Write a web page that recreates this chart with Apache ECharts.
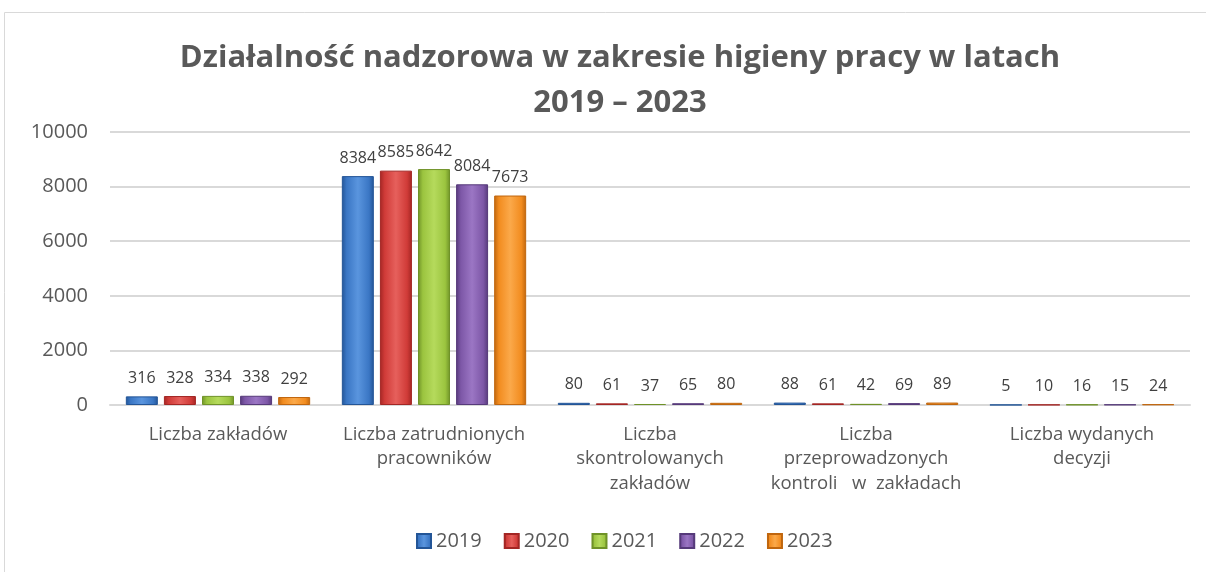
<!DOCTYPE html>
<html>
<head>
<meta charset="utf-8">
<script src="https://cdn.jsdelivr.net/npm/echarts@6/dist/echarts.min.js"></script>
<style>
	html, body { margin: 0; padding: 0; background: #fff; }
	#chart { width: 1206px; height: 572px; }
</style>
</head>
<body>
<div id="chart"></div>
<script>
// kategorie i dane
var categories = [
	'Liczba zakładów',
	'Liczba zatrudnionych\npracowników',
	'Liczba\nskontrolowanych\nzakładów',
	'Liczba\nprzeprowadzonych\nkontroli   w  zakładach',
	'Liczba wydanych\ndecyzji'
];
var years = ['2019', '2020', '2021', '2022', '2023'];
var v2019 = [316, 8384, 80, 88, 5];
var v2020 = [328, 8585, 61, 61, 10];
var v2021 = [334, 8642, 37, 42, 16];
var v2022 = [338, 8084, 65, 69, 15];
var v2023 = [292, 7673, 80, 89, 24];
var yTicks = [0, 2000, 4000, 6000, 8000, 10000];

var colors = [
	['#5a95de', '#3a76c4', '#235597'],
	['#e6605c', '#d03b38', '#a32624'],
	['#b5da5c', '#9bc43f', '#6f9228'],
	['#9b76c4', '#7d57a7', '#563a7a'],
	['#fba94a', '#f28c1f', '#c0660e']
];

function grad(c) {
	return new echarts.graphic.LinearGradient(0, 0, 1, 0, [
		{offset: 0, color: c[2]},
		{offset: 0.15, color: c[1]},
		{offset: 0.5, color: c[0]},
		{offset: 0.85, color: c[1]},
		{offset: 1, color: c[2]}
	]);
}

var allValues = [v2019, v2020, v2021, v2022, v2023];
var series = years.map(function (y, i) {
	return {
		name: y,
		type: 'bar',
		data: allValues[i],
		barWidth: 32,
		barGap: '19%',
		itemStyle: {
			color: grad(colors[i]),
			borderColor: colors[i][2],
			borderWidth: 1
		},
		label: {
			show: true,
			position: 'top',
			distance: 10,
			color: '#404040',
			fontSize: 16,
			fontFamily: 'Open Sans'
		}
	};
});

var myChart = echarts.init(document.getElementById('chart'));
myChart.setOption({
	animation: false,
	color: colors.map(function (c) { return c[1]; }),
	graphic: [{
		type: 'polyline',
		shape: {points: [[4.5, 572], [4.5, 12.5], [1206, 12.5]]},
		style: {stroke: '#d9d9d9', lineWidth: 1, fill: null}
	}],
	title: {
		text: 'Działalność nadzorowa w zakresie higieny pracy w latach\n2019 – 2023',
		left: 615,
		textAlign: 'center',
		top: 31,
		textStyle: {
			fontFamily: 'Open Sans',
			fontWeight: 'bold',
			fontSize: 31,
			lineHeight: 45,
			color: '#595959'
		}
	},
	legend: {
		data: years,
		bottom: 16,
		left: 411,
		itemWidth: 14,
		itemHeight: 14,
		itemGap: 22,
		icon: 'rect',
		textStyle: {fontSize: 20, color: '#595959', fontFamily: 'Open Sans'}
	},
	grid: {left: 110, right: 16, top: 132, bottom: 167},
	xAxis: {
		type: 'category',
		data: categories,
		axisLine: {lineStyle: {color: '#d9d9d9', width: 2}},
		axisTick: {show: false},
		axisLabel: {
			color: '#595959',
			fontSize: 18.5,
			lineHeight: 24.5,
			margin: 17,
			interval: 0,
			fontFamily: 'Open Sans'
		}
	},
	yAxis: {
		type: 'value',
		min: yTicks[0],
		max: yTicks[yTicks.length - 1],
		interval: 2000,
		axisLine: {show: false},
		axisTick: {show: false},
		splitLine: {lineStyle: {color: '#d9d9d9', width: 2}},
		axisLabel: {
			color: '#595959',
			fontSize: 20,
			margin: 22,
			fontFamily: 'Open Sans',
			formatter: function (v) { return String(v); }
		}
	},
	series: series
});
</script>
</body>
</html>
